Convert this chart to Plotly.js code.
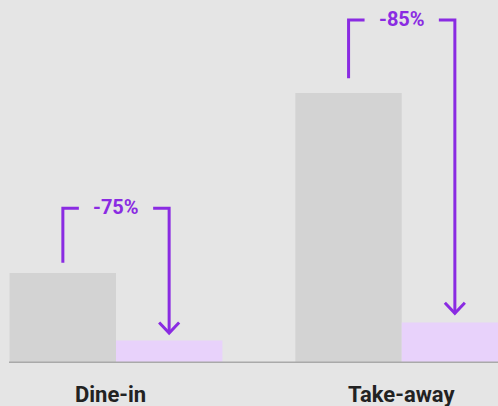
<!DOCTYPE html>
<html>
<head>
<meta charset="utf-8">
<script src="https://cdn.plot.ly/plotly-3.0.1.min.js"></script>
<style>html,body{margin:0;padding:0;background:#e5e5e5;}#chart{width:498px;height:406px;}</style>
</head>
<body>
<div id="chart"></div>
<script>
// ---- data ----
var categories = ["Dine-in", "Take-away"];
var beforeValues = [100, 300];
var afterValues = [25, 45];
var changeLabels = ["-75%", "-85%"];

// ---- styles / positions ----
var purple = "#8a2be2";
var barOffset = 0.186;     // half of a bar width, in category units
var gapHalf = 0.13;        // half-gap around percentage text
var wingDx = 0.035, wingDy = 11.8;
var bracketTop = [171.9, 381.1];
var startBottom = [111.4, 316.3];
var arrowTip = [33.3, 55.2];
var labelShift = [{x: -6, y: -31}, {x: 0, y: -31}];

var traces = [
  {type: "bar", x: categories, y: beforeValues, marker: {color: "#d3d3d3"}, hoverinfo: "none"},
  {type: "bar", x: categories, y: afterValues, marker: {color: "#e8d2fb"}, hoverinfo: "none"}
];

var shapes = [];
var annotations = [];
categories.forEach(function (c, i) {
  var xl = i - barOffset, xr = i + barOffset;
  var top = bracketTop[i];
  shapes.push({type: "path", xref: "x", yref: "y",
    path: "M" + xl + "," + startBottom[i] + " L" + xl + "," + top + " L" + (i - gapHalf) + "," + top,
    line: {color: purple, width: 3}});
  shapes.push({type: "path", xref: "x", yref: "y",
    path: "M" + (i + gapHalf) + "," + top + " L" + xr + "," + top + " L" + xr + "," + arrowTip[i],
    line: {color: purple, width: 3}});
  shapes.push({type: "path", xref: "x", yref: "y",
    path: "M" + (xr - wingDx) + "," + (arrowTip[i] + wingDy) + " L" + xr + "," + arrowTip[i] + " L" + (xr + wingDx) + "," + (arrowTip[i] + wingDy),
    line: {color: purple, width: 3}});
  annotations.push({xref: "x", yref: "y", x: i, y: top, text: "<b>" + changeLabels[i] + "</b>",
    showarrow: false, yanchor: "middle", yshift: 1,
    font: {family: "Roboto, sans-serif", size: 20, color: purple}});
  annotations.push({xref: "x", yref: "paper", x: i, y: 0, text: "<b>" + c + "</b>",
    showarrow: false, yanchor: "middle", xshift: labelShift[i].x, yshift: labelShift[i].y,
    font: {family: "Roboto, sans-serif", size: 22, color: "#222222"}});
});
shapes.push({type: "line", xref: "paper", yref: "y", x0: 0, x1: 1, y0: 0, y1: 0,
  line: {color: "#a9a9a9", width: 3}});

var layout = {
  width: 498, height: 406,
  margin: {l: 9, r: 0, t: 0, b: 43},
  paper_bgcolor: "#e5e5e5", plot_bgcolor: "#e5e5e5",
  barmode: "group", bargap: 0.255, bargroupgap: 0,
  showlegend: false,
  xaxis: {type: "category", range: [-0.3745, 1.337], showticklabels: false, showgrid: false, zeroline: false, showline: false, fixedrange: true},
  yaxis: {range: [0, 403.3], visible: false, showgrid: false, zeroline: false, fixedrange: true},
  shapes: shapes,
  annotations: annotations
};

Plotly.newPlot("chart", traces, layout, {displayModeBar: false, staticPlot: true});
</script>
</body>
</html>
